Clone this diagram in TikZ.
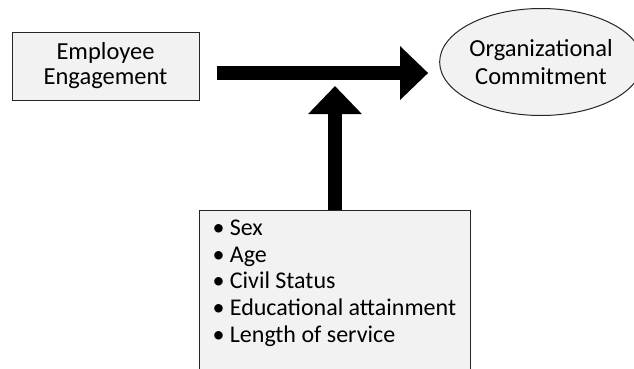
\documentclass[tikz,border=0pt]{standalone}
\usepackage{fontspec}
\setmainfont{Carlito}
\usetikzlibrary{arrows.meta,positioning,calc,shapes.geometric}
\definecolor{boxfill}{RGB}{242,242,242}
\tikzset{
  varbox/.style={rectangle,draw=black!85,line width=1pt,fill=boxfill,align=center,
    font=\fontsize{24.5}{25}\selectfont},
  varoval/.style={ellipse,draw=black!85,line width=1pt,fill=boxfill,align=center,
    font=\fontsize{24.5}{28}\selectfont,inner sep=0pt},
  bigarrow/.style={-{Triangle[width=52pt,length=28pt]},line width=14pt,color=black}
}

\begin{document}
\begin{tikzpicture}[x=1pt,y=-1pt]
  \useasboundingbox (0,0) rectangle (634,368);
  \clip (0,0) rectangle (634,368);
  \node[varbox, minimum width=187pt, minimum height=68pt] (engage) at (105.5,66)
      {Employee\\Engagement};
  \node[varoval, minimum width=196pt, minimum height=107pt] (commit) at (541,62)
      {Organizational\\Commitment};
  \node[varbox, anchor=north west, align=left, inner xsep=13pt, inner ysep=6pt] (factors) at (199,210)
      {\parbox[t][160pt][t]{245pt}{\raggedright\fontsize{24}{26.8}\selectfont\strut
        • Sex\\ • Age\\ • Civil Status\\ • Educational attainment\\ • Length of service}};
  \coordinate (hend) at ($(commit.west)+(-11,11)$);
  \coordinate (join) at (335,86);
  \draw[bigarrow] ($(engage.east)+(17,7)$) -- (hend);
  \draw[bigarrow] (factors.north -| join) -- (join);
\end{tikzpicture}
\end{document}
